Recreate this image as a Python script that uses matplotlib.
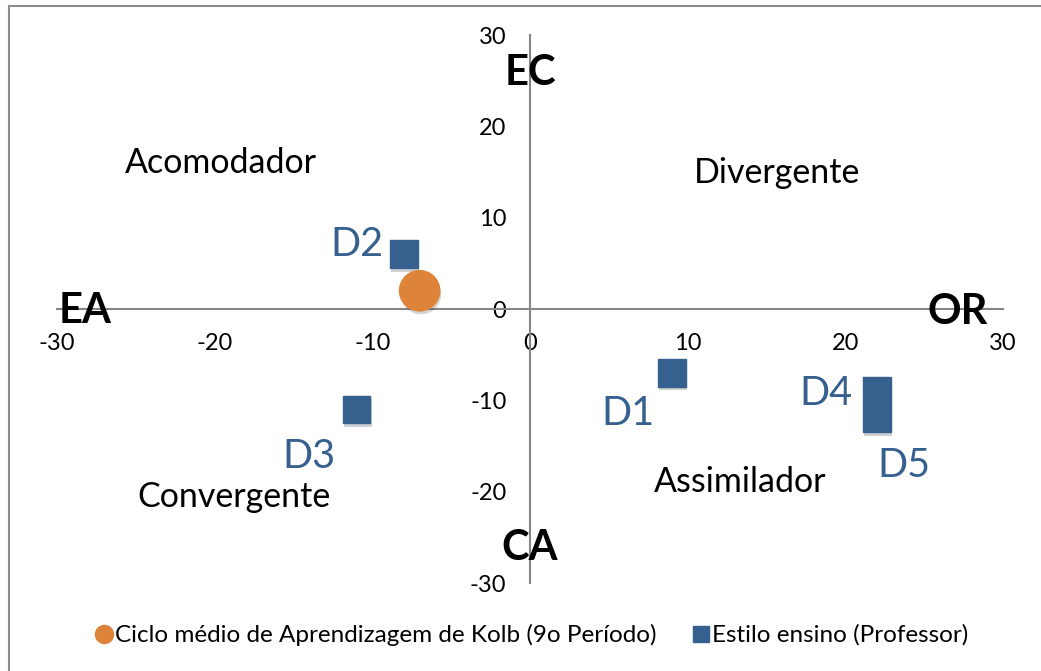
import matplotlib.pyplot as plt
import matplotlib.patheffects as pe
from matplotlib.lines import Line2D

plt.rcParams['font.family'] = ['Lato', 'DejaVu Sans']

# Data
kolb_x = [-7]
kolb_y = [2]
prof_names = ['D1', 'D2', 'D3', 'D4', 'D5']
prof_x = [9, -8, -11, 22, 22]
prof_y = [-7, 6, -11, -9, -12]
ticks = [-30, -20, -10, 0, 10, 20, 30]

# label positions (data coords)
prof_label_pos = {'D1': (6.2, -11.4), 'D2': (-11.0, 7.1), 'D3': (-14.0, -16.1),
                  'D4': (18.8, -9.3), 'D5': (23.7, -17.1)}
regions = [('Acomodador', -19.6, 16.0), ('Divergente', 15.7, 14.9),
           ('Convergente', -18.8, -20.6), ('Assimilador', 13.3, -18.9)]
poles = [('EC', 0, 25.8), ('CA', 0, -26.2), ('EA', -28.2, -0.2), ('OR', 27.1, -0.3)]

orange = '#DD843A'
blue = '#36618F'
axis_gray = '#868686'

fig = plt.figure(figsize=(10.41, 6.71), dpi=100)
ax = fig.add_axes([57 / 1041, 1 - 583 / 671, 946 / 1041, 548 / 671])

shadow = [pe.SimplePatchShadow(offset=(1.0, -2.5), alpha=0.2), pe.Normal()]

ax.plot(prof_x, prof_y, 's', color=blue, markersize=20, linestyle='none',
        label='Estilo ensino (Professor)', path_effects=shadow, zorder=3)
ax.plot(kolb_x, kolb_y, 'o', color=orange, markersize=29, linestyle='none',
        label='Ciclo médio de Aprendizagem de Kolb (9o Período)',
        path_effects=shadow, zorder=4)

ax.set_xlim(-30, 30)
ax.set_ylim(-30, 30)
ax.set_xticks(ticks)
ax.set_yticks(ticks)
ax.set_xticklabels([str(t) for t in ticks])
ax.set_yticklabels([str(t) for t in ticks])

for side in ['left', 'bottom']:
    ax.spines[side].set_position(('data', 0))
    ax.spines[side].set_color(axis_gray)
    ax.spines[side].set_linewidth(1.5)
for side in ['top', 'right']:
    ax.spines[side].set_visible(False)
ax.tick_params(axis='x', length=0, pad=17, labelsize=17)
ax.tick_params(axis='y', length=0, pad=17, labelsize=17)

for name in prof_names:
    lx, ly = prof_label_pos[name]
    ax.text(lx, ly, name, color=blue, fontsize=28.5, ha='center', va='center')

for txt, tx, ty in regions:
    ax.text(tx, ty, txt, fontsize=24.5, ha='center', va='center', color='black')

for txt, tx, ty in poles:
    ax.text(tx, ty, txt, fontsize=30, fontweight='bold', ha='center',
            va='center', color='black', zorder=5)

handles = [
    Line2D([], [], marker='o', color=orange, linestyle='none', markersize=13),
    Line2D([], [], marker='s', color=blue, linestyle='none', markersize=12),
]
fig.legend(handles, ['Ciclo médio de Aprendizagem de Kolb (9o Período)',
                     'Estilo ensino (Professor)'],
           loc='center', bbox_to_anchor=(0.51, 1 - 635 / 671), ncol=2,
           frameon=False, fontsize=17.5, handletextpad=0.0, columnspacing=1.4,
           handlelength=0.9)

# chart area border (left and top edges visible)
fig.add_artist(Line2D([9 / 1041, 9 / 1041], [0, 1 - 6 / 671], color='#8c8c8c',
                      lw=1.5, transform=fig.transFigure))
fig.add_artist(Line2D([9 / 1041, 1], [1 - 6 / 671, 1 - 6 / 671], color='#8c8c8c',
                      lw=1.5, transform=fig.transFigure))

fig.savefig('out.png', dpi=100)
